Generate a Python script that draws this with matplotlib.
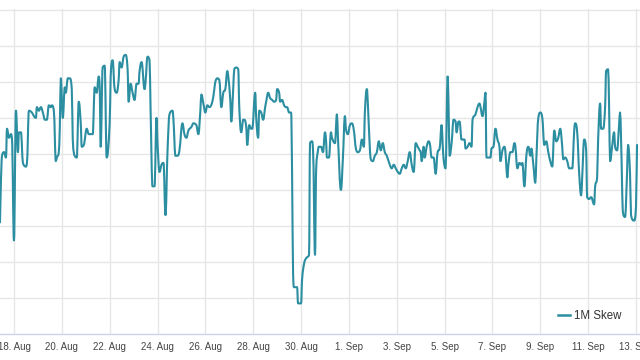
#!/usr/bin/env python3
"""
1M skew history, hourly-ish samples from 17 Aug to 13 Sep.

Usage:
    python plot.py   -> writes out.png
"""

import matplotlib
matplotlib.use("Agg")
import matplotlib.pyplot as plt
import matplotlib.dates as mdates
from matplotlib.path import Path
from matplotlib.patches import PathPatch
import pandas as pd

START = pd.Timestamp("2024-08-17 10:00")

# hours since START
hours = [
    0, 2, 4, 6, 7, 9, 11, 12, 14, 16, 18, 19,
    21, 23, 26, 27, 29, 32, 34, 36, 37, 39, 41, 43,
    45, 47, 49, 51, 52, 54, 56, 57, 59, 60, 61, 63,
    65, 66, 68, 70, 72, 73, 75, 77, 79, 81, 82, 84,
    87, 89, 91, 93, 95, 97, 99, 100, 101, 103, 105, 107,
    110, 111, 113, 115, 117, 119, 120, 122, 124, 126, 128, 129,
    131, 133, 135, 137, 139, 140, 142, 145, 146, 148, 150, 151,
    153, 155, 157, 158, 160, 162, 164, 166, 168, 170, 173, 174,
    176, 178, 180, 183, 185, 187, 189, 192, 194, 197, 199, 201,
    202, 204, 206, 208, 210, 213, 215, 216, 218, 220, 222, 224,
    226, 228, 229, 231, 232, 234, 235, 237, 239, 240, 242, 244,
    245, 247, 248, 250, 252, 253, 256, 257, 259, 260, 262, 264,
    266, 267, 269, 271, 273, 275, 277, 278, 280, 281, 283, 285,
    287, 288, 290, 292, 293, 294, 295, 298, 299, 302, 303, 305,
    307, 309, 310, 311, 313, 314, 316, 317, 319, 320, 322, 324,
    326, 327, 328, 330, 332, 333, 336, 338, 339, 342, 344, 346,
    347, 349, 351, 353, 355, 357, 359, 361, 363, 365, 366, 368,
    369, 371, 372, 374, 376, 378, 380, 382, 384, 386, 388, 391,
    393, 395, 397, 399, 401, 403, 405, 407, 409, 411, 413, 415,
    417, 419, 421, 422, 423, 425, 426, 428, 430, 431, 433, 435,
    437, 439, 441, 443, 444, 445, 447, 448, 449, 450, 451, 453,
    455, 457, 458, 460, 461, 463, 464, 466, 467, 469, 471, 473,
    474, 477, 479, 481, 482, 484, 486, 487, 488, 490, 492, 493,
    495, 497, 499, 501, 502, 504, 506, 507, 509, 510, 512, 514,
    516, 517, 519, 521, 523, 524, 526, 528, 530, 532, 533, 535,
    537, 538, 540, 542, 544, 546, 548, 550, 552, 554, 556, 558,
    560, 562, 564, 565, 567, 569, 571, 574, 576, 577, 579, 581,
    583, 584, 586, 588, 589, 591, 593, 596, 597, 599, 600, 602,
    603, 605, 607, 608, 610, 611, 612, 614, 616, 617, 619, 621,
    622, 623, 625, 627, 629, 630, 632, 633, 636, 638, 639,
]

skew_1m = [
    -5.8, -2.1, -1.9, -2.2, -0.6, -1.1, -0.9, -1.2, -6.8, 0.4, -1.9, -0.8,
    -0.8, -2.5, -2.7, -2.5, 0.4, 0.3, 0.1, 0.0, 0.6, 0.4, 0.6, 0.3,
    -0.1, -0.1, 0.7, 0.6, 0.7, 0.4, -2.4, -2.2, -1.9, -0.5, 2.2, 0.0,
    1.7, 1.4, 2.2, 2.2, 1.6, -1.2, -2.1, -2.2, 0.9, -0.3, -1.6, -1.5,
    -0.6, -0.9, -0.9, -0.9, 1.7, 1.4, 2.3, 1.7, -1.6, 2.8, 2.9, -2.2,
    -0.3, 2.3, 3.2, 1.6, 1.4, 2.1, 3.1, 2.8, 3.4, 3.5, 2.7, 0.9,
    1.9, 1.4, 1.0, 1.9, 1.9, 2.6, 3.1, 1.6, 2.0, 3.4, 3.2, 0.6,
    -3.8, -3.8, 0.0, -1.4, -3.0, -2.6, -2.5, -5.4, -1.9, 0.2, 0.4, -0.1,
    -2.1, -2.1, -1.8, -0.3, -0.9, -1.1, -0.7, -0.5, -0.3, -0.4, -0.9, 0.4,
    1.3, 0.8, 0.3, 0.7, 0.6, 0.9, 1.6, 2.0, 2.2, 2.1, 0.6, 1.4,
    1.6, 2.6, 2.3, 1.0, -0.2, 1.7, 2.7, 2.8, 2.7, 0.6, -0.8, -0.1,
    -0.1, -0.5, -1.5, -0.4, -0.6, -0.6, 1.4, 0.0, -1.1, 0.4, 0.3, -0.1,
    0.6, 0.9, 1.4, 1.1, 1.0, 0.9, 1.0, 1.6, 1.4, 0.9, 1.0, 0.7,
    0.6, 0.6, 0.3, 0.3, -3.1, -8.6, -9.4, -9.4, -10.3, -10.3, -9.0, -8.1,
    -7.8, -7.7, -7.6, -1.4, -1.3, -1.8, -7.6, -3.1, -1.8, -1.6, -1.6, -1.9,
    -0.8, -1.2, -2.2, -2.2, -0.8, -1.1, -1.4, 0.2, -1.1, -4.0, -2.2, 0.1,
    -0.6, -0.9, -0.4, -0.3, -0.7, -1.7, -1.9, -1.8, -1.2, -1.6, 0.3, 1.6,
    0.8, -1.7, -2.3, -2.4, -2.1, -1.9, -1.3, -1.8, -1.4, -1.9, -2.1, -2.6,
    -2.8, -2.6, -2.8, -3.0, -3.1, -2.8, -2.6, -2.8, -2.4, -1.9, -2.6, -3.0,
    -1.4, -1.6, -1.8, -1.9, -2.4, -1.6, -2.2, -1.6, -1.3, -1.4, -2.2, -2.2,
    -3.1, -1.9, -1.7, -0.4, -1.4, -2.3, -2.8, -0.3, 2.3, 0.6, -2.1, -1.4,
    -0.1, -0.2, -0.8, -0.2, -0.2, -1.2, -1.2, -1.2, -1.7, -1.6, -1.4, -1.6,
    -0.1, 0.2, 0.6, 0.8, 0.6, 0.1, 0.9, 1.4, -2.2, -2.2, -2.2, -1.7,
    -1.6, -0.6, -1.2, -1.6, -2.4, -1.8, -1.6, -1.9, -3.3, -2.6, -1.9, -1.9,
    -1.4, -1.6, -2.8, -2.5, -2.6, -2.5, -3.8, -2.1, -1.6, -2.1, -1.7, -2.6,
    -3.6, -2.3, 0.0, 0.3, 0.0, -1.5, -1.3, -1.9, -2.4, -2.7, -0.7, -1.3,
    -1.1, -0.6, -1.6, -2.3, -2.2, -2.4, -2.8, -2.8, -0.7, -0.3, -0.8, -3.1,
    -4.3, -3.3, -1.2, -1.8, -4.4, -4.5, -4.4, -4.8, -3.8, -3.3, -1.2, 0.8,
    -0.6, -0.6, 0.6, 2.6, 2.7, 0.6, -2.4, -1.6, -0.8, -1.6, -1.8, -0.4,
    0.3, -1.2, -5.3, -5.5, -3.1, -1.5, -3.1, -5.4, -5.7, -4.9, -1.5,
]

y_ticks = [-12, -10, -8, -6, -4, -2, 0, 2, 4, 6]

LINE_COLOR = "#2b8ea1"
GRID_COLOR = "#e6e6e6"


def spline_path(xs, ys, smoothing=1.5):
    """Smooth bezier path through the points (same idea as a charting 'spline')."""
    n = len(xs)
    left = [None] * n
    right = [None] * n
    d = smoothing + 1
    for i in range(1, n - 1):
        lx, ly = xs[i - 1], ys[i - 1]
        x, y = xs[i], ys[i]
        nx, ny = xs[i + 1], ys[i + 1]
        lcx = (smoothing * x + lx) / d
        lcy = (smoothing * y + ly) / d
        rcx = (smoothing * x + nx) / d
        rcy = (smoothing * y + ny) / d
        if rcx != lcx:
            corr = ((rcy - lcy) * (rcx - x)) / (rcx - lcx) + y - rcy
            lcy += corr
            rcy += corr
        # no overshoot past neighbours
        if lcy > ly and lcy > y:
            lcy = max(ly, y)
            rcy = 2 * y - lcy
        elif lcy < ly and lcy < y:
            lcy = min(ly, y)
            rcy = 2 * y - lcy
        if rcy > ny and rcy > y:
            rcy = max(ny, y)
            lcy = 2 * y - rcy
        elif rcy < ny and rcy < y:
            rcy = min(ny, y)
            lcy = 2 * y - rcy
        left[i] = (lcx, lcy)
        right[i] = (rcx, rcy)

    verts = [(xs[0], ys[0])]
    codes = [Path.MOVETO]
    for i in range(1, n):
        c1 = right[i - 1] or (xs[i - 1], ys[i - 1])
        c2 = left[i] or (xs[i], ys[i])
        verts += [c1, c2, (xs[i], ys[i])]
        codes += [Path.CURVE4] * 3
    return Path(verts, codes)


def main():
    assert len(hours) == len(skew_1m)
    times = START + pd.to_timedelta(hours, unit="h")
    xnum = list(mdates.date2num(times))

    plt.rcParams["font.family"] = ["Liberation Sans", "DejaVu Sans"]

    fig = plt.figure(figsize=(6.4, 3.6), dpi=100)
    ax = fig.add_axes([0.0, 1 - 334 / 360, 1.0, 325 / 360])

    patch = PathPatch(spline_path(xnum, skew_1m), facecolor="none",
                      edgecolor=LINE_COLOR, linewidth=1.5,
                      joinstyle="round", capstyle="round", zorder=3)
    ax.add_patch(patch)
    # legend handle only
    ax.plot([], [], color=LINE_COLOR, linewidth=1.8, label="1M Skew")

    # x range: a bit before 18 Aug to just past 13 Sep
    ax.set_xlim(pd.Timestamp("2024-08-18") - pd.Timedelta(hours=14),
                pd.Timestamp("2024-09-13") + pd.Timedelta(hours=4))
    ax.set_ylim(-12, 6.05)

    ticks = pd.date_range("2024-08-18", "2024-09-13", freq="2D")
    ax.set_xticks(ticks)
    ax.set_xticklabels([f"{t.day}. {t.strftime('%b')}" for t in ticks])
    ax.set_yticks(y_ticks)
    ax.set_yticklabels([])

    ax.grid(True, color=GRID_COLOR, linewidth=1.0)
    ax.set_axisbelow(True)

    for side in ("top", "left", "right"):
        ax.spines[side].set_visible(False)
    ax.spines["bottom"].set_color("#ccd6eb")
    ax.spines["bottom"].set_linewidth(1.0)

    ax.tick_params(axis="x", length=0, pad=6, labelsize=7, labelcolor="#444444")
    ax.tick_params(axis="y", length=0)

    ax.legend(loc="center right", bbox_to_anchor=(627 / 640, 1 - 316 / 360),
              bbox_transform=fig.transFigure, frameon=False, fontsize=8.3,
              handlelength=1.0, handletextpad=0.35, borderpad=0,
              labelcolor="#333333")

    fig.savefig("out.png", dpi=100)
    plt.close(fig)


if __name__ == "__main__":
    main()
